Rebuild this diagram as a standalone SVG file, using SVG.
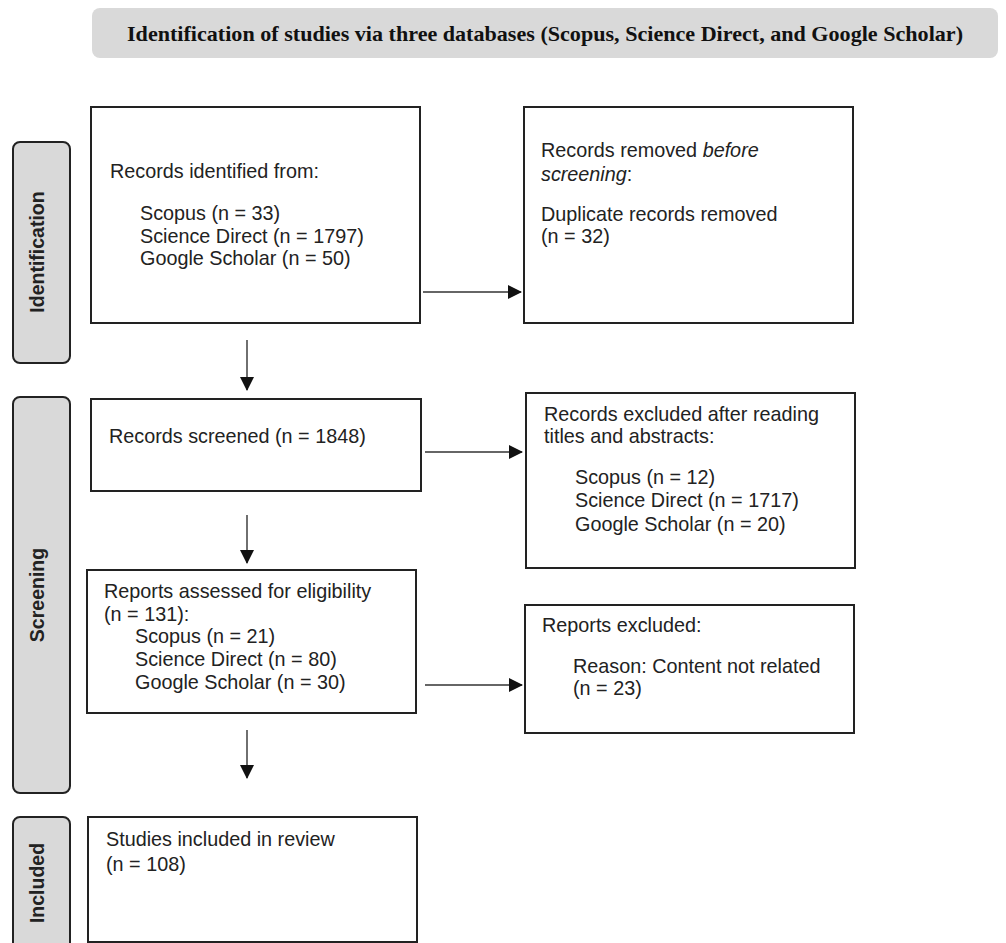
<svg xmlns="http://www.w3.org/2000/svg" width="1006" height="943" viewBox="0 0 1006 943">
<style>
.box{fill:#fff;stroke:#222;stroke-width:2}
.side{fill:#d9d9d9;stroke:#222;stroke-width:2}
.t{font-family:"Liberation Sans",Arial,sans-serif;font-size:19.8px;fill:#222}
.st{font-family:"Liberation Sans",Arial,sans-serif;font-size:19.5px;font-weight:bold;fill:#222}
.conn{stroke:#333;stroke-width:1.4;fill:none}
</style>
<defs>
<marker id="ah" markerWidth="14" markerHeight="14" refX="13" refY="7" orient="auto" markerUnits="userSpaceOnUse">
<path d="M0,0 L14,7 L0,14 Z" fill="#111"/>
</marker>
</defs>
<rect width="1006" height="943" fill="#fff"/>
<g id="title">
<rect x="92" y="8" width="906" height="50" rx="8" fill="#d9d9d9"/>
<text x="545" y="41" text-anchor="middle" font-family="'Liberation Serif','Times New Roman',serif" font-weight="bold" font-size="21" fill="#111" textLength="836" lengthAdjust="spacingAndGlyphs">Identification of studies via three databases (Scopus, Science Direct, and Google Scholar)</text>
</g>
<g id="label-identification">
<rect class="side" x="13" y="142" width="57" height="221" rx="7"/>
<text class="st" transform="translate(44,252) rotate(-90)" text-anchor="middle">Identification</text>
</g>
<g id="label-screening">
<rect class="side" x="13" y="397" width="57" height="396" rx="7"/>
<text class="st" transform="translate(44,595) rotate(-90)" text-anchor="middle">Screening</text>
</g>
<g id="label-included">
<rect class="side" x="13" y="817" width="57" height="140" rx="7"/>
<text class="st" transform="translate(44,883) rotate(-90)" text-anchor="middle">Included</text>
</g>
<g id="records-identified">
<rect class="box" x="91" y="107" width="329" height="216"/>
<text class="t" x="110" y="178">Records identified from:</text>
<text class="t" x="140" y="220">Scopus (n = 33)</text>
<text class="t" x="140" y="243">Science Direct (n = 1797)</text>
<text class="t" x="140" y="265">Google Scholar (n = 50)</text>
</g>
<g id="records-removed">
<rect class="box" x="524" y="107" width="329" height="216"/>
<text class="t" x="541" y="157">Records removed <tspan font-style="italic">before</tspan></text>
<text class="t" x="541" y="181"><tspan font-style="italic">screening</tspan>:</text>
<text class="t" x="541" y="221">Duplicate records removed</text>
<text class="t" x="541" y="243">(n = 32)</text>
</g>
<g id="records-screened">
<rect class="box" x="91" y="399" width="330" height="92"/>
<text class="t" x="109" y="443">Records screened (n = 1848)</text>
</g>
<g id="records-excluded">
<rect class="box" x="526" y="393" width="329" height="175"/>
<text class="t" x="544" y="421">Records excluded after reading</text>
<text class="t" x="544" y="443">titles and abstracts:</text>
<text class="t" x="575" y="484">Scopus (n = 12)</text>
<text class="t" x="575" y="507">Science Direct (n = 1717)</text>
<text class="t" x="575" y="531">Google Scholar (n = 20)</text>
</g>
<g id="reports-assessed">
<rect class="box" x="87" y="570" width="329" height="143"/>
<text class="t" x="104" y="598">Reports assessed for eligibility</text>
<text class="t" x="104" y="621">(n = 131):</text>
<text class="t" x="135" y="643">Scopus (n = 21)</text>
<text class="t" x="135" y="666">Science Direct (n = 80)</text>
<text class="t" x="135" y="689">Google Scholar (n = 30)</text>
</g>
<g id="reports-excluded">
<rect class="box" x="525" y="605" width="329" height="128"/>
<text class="t" x="542" y="632">Reports excluded:</text>
<text class="t" x="573" y="673">Reason: Content not related</text>
<text class="t" x="573" y="695">(n = 23)</text>
</g>
<g id="studies-included">
<rect class="box" x="88" y="817" width="329" height="125"/>
<text class="t" x="106" y="846">Studies included in review</text>
<text class="t" x="106" y="871">(n = 108)</text>
</g>
<g id="connectors">
<line class="conn" x1="247" y1="340" x2="247" y2="390" marker-end="url(#ah)"/>
<line class="conn" x1="247" y1="515" x2="247" y2="563" marker-end="url(#ah)"/>
<line class="conn" x1="247" y1="730" x2="247" y2="778" marker-end="url(#ah)"/>
<line class="conn" x1="423" y1="292" x2="521" y2="292" marker-end="url(#ah)"/>
<line class="conn" x1="425" y1="452" x2="522" y2="452" marker-end="url(#ah)"/>
<line class="conn" x1="425" y1="685" x2="522" y2="685" marker-end="url(#ah)"/>
</g>
</svg>
